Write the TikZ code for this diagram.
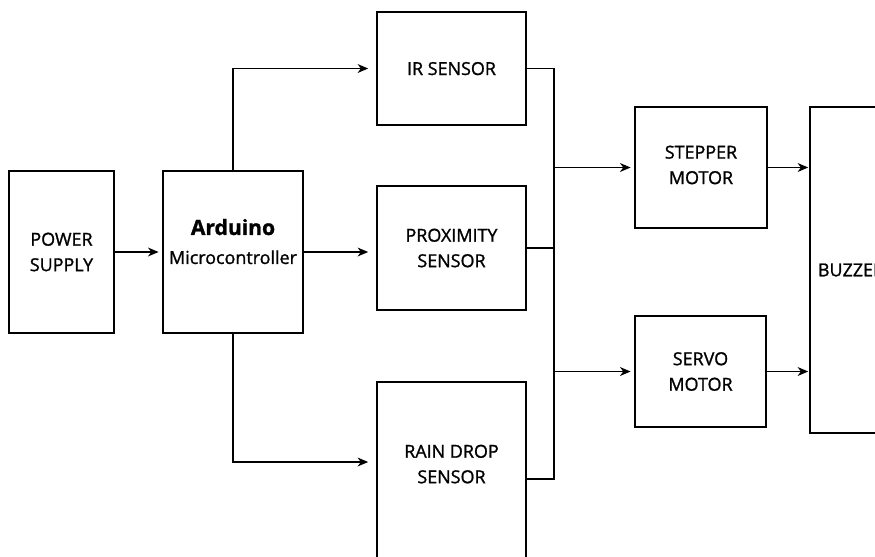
\documentclass[tikz,border=0pt]{standalone}
\usepackage{fontspec}
\setmainfont{Open Sans}
\newfontfamily\blockfont[FakeBold=1.2]{Open Sans}
\usetikzlibrary{arrows.meta}

\begin{document}
\begin{tikzpicture}[x=0.02cm,y=-0.02cm,
	block/.style={draw,line width=0.95pt,inner sep=0,outer sep=0,align=center,
		font=\blockfont\fontsize{10.2}{14.5}\selectfont},
	arr/.style={-{Stealth[length=6pt,width=5pt,inset=1.8pt]},line width=0.95pt,shorten >=2.5pt},
	wire/.style={line width=0.95pt}]
	\useasboundingbox (0,0) rectangle (875,556);
	\clip (0,0) rectangle (875,556);
	\node[block,minimum width=2.1cm,minimum height=3.24cm] (1) at (61.5,252) {POWER\\SUPPLY};
	\node[block,minimum width=2.8cm,minimum height=3.24cm,text depth=12pt] (2) at (233,252) {\textbf{\large Arduino}\\[2pt]Microcontroller};
	\node[block,minimum width=2.98cm,minimum height=2.26cm,text depth=0pt] (3) at (451.5,68.5) {IR SENSOR};
	\node[block,minimum width=2.98cm,minimum height=2.48cm] (4) at (451.5,248) {PROXIMITY\\SENSOR};
	\node[block,minimum width=2.98cm,minimum height=3.56cm,text depth=8pt] (5) at (451.5,471) {RAIN DROP\\SENSOR};
	\node[block,minimum width=2.64cm,minimum height=2.42cm,text depth=3pt] (6) at (701,167.5) {STEPPER\\MOTOR};
	\node[block,minimum width=2.62cm,minimum height=2.22cm] (7) at (700.5,371.5) {SERVO\\MOTOR};
	\node[block,minimum width=1.64cm,minimum height=6.52cm] (8) at (851,270) {BUZZER};
	% sensor bus
	\coordinate (bt) at (554,68.5);
	\coordinate (bb) at (554,479);
	\draw[arr] (1.east) -- (2.west);
	\draw[arr,shorten >=5pt] (2.north) |- (3.west);
	\draw[arr,shorten >=5pt] (2.east) -- (2.east -| 3.west);
	\draw[arr,shorten >=5pt] (2.south) |- ([yshift=0.18cm]5.west);
	\draw[wire] (3.east) -- (bt) -- (bb) -- (bb -| 5.east);
	\draw[wire] (4.east) -- (4.east -| bt);
	\draw[arr] (bt |- 6.west) -- (6.west);
	\draw[arr] (bt |- 7.west) -- (7.west);
	\draw[arr,shorten >=1pt] (6.east) -- (8.west |- 6.east);
	\draw[arr,shorten >=1pt] (7.east) -- (8.west |- 7.east);
\end{tikzpicture}
\end{document}
